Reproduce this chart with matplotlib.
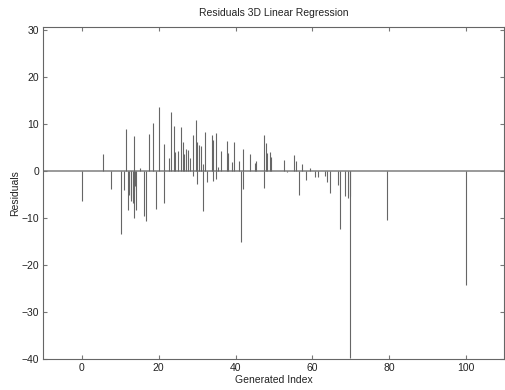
import matplotlib
matplotlib.use("Agg")
import matplotlib.pyplot as plt

plt.rcParams['font.family'] = ['Liberation Sans', 'DejaVu Sans']

# Generated index of each observation and its residual
index = [0.0, 5.6, 7.6, 10.1, 10.9, 11.4, 12.1, 12.4, 12.7, 12.9, 13.2, 13.5, 13.5,
         13.7, 13.9, 14.2, 15.2, 16.2, 16.6, 17.6, 18.6, 19.4, 20.0, 21.4, 21.4,
         22.8, 23.1, 24.0, 24.3, 25.1, 25.8, 26.3, 26.7, 27.1, 27.7, 28.1, 28.9,
         28.9, 29.7, 29.9, 29.9, 30.4, 31.1, 31.6, 31.6, 32.1, 32.7, 33.9, 34.2,
         34.2, 34.9, 34.9, 35.4, 36.2, 37.9, 38.1, 39.2, 39.7, 40.8, 41.4, 42.0,
         42.0, 43.7, 45.1, 45.4, 47.4, 47.4, 47.9, 48.1, 48.9, 49.3, 52.7, 53.3,
         55.3, 55.8, 56.4, 57.4, 58.4, 59.3, 60.6, 61.5, 63.4, 63.9, 64.5, 66.7,
         67.3, 68.4, 69.3, 69.7, 69.9, 79.4, 100.0]
residuals = [-6.4, 3.5, -3.8, -13.4, -4.0, 8.9, -8.3, -5.1, -5.8, -6.4, -6.9, -10.0, 7.3,
             -4.4, -3.3, -8.3, 0.6, -9.7, -10.7, 7.9, 10.1, -8.1, 13.6, 5.6, -6.9,
             2.8, 12.4, 9.6, 4.0, 4.1, 9.3, 6.2, 3.5, 4.7, 4.4, 2.7, 7.5,
             -1.2, 10.7, 6.2, -2.8, 5.5, 5.2, -8.6, 1.5, 8.3, -2.4, 7.6, 6.6,
             -2.1, 8.0, -1.7, 0.7, 4.2, 6.4, 3.7, 1.8, 6.2, 2.1, -15.2, 4.7,
             -3.9, 3.6, 1.6, 2.1, 7.5, -3.6, 5.9, 3.7, 4.0, 3.0, 2.2, -0.3,
             3.4, 2.1, -5.1, 1.4, -2.0, 0.5, -1.3, -1.3, -1.1, -2.4, -4.7, -3.1,
             -12.3, -5.4, -5.7, -5.4, -39.8, -10.5, -24.3]

x_ticks = [0, 20, 40, 60, 80, 100]
y_ticks = [-40, -30, -20, -10, 0, 10, 20, 30]

fig = plt.figure(figsize=(5.05, 3.9), dpi=100)
ax = fig.add_axes([0.086, 0.0795, 0.913, 0.852])

# zero baseline
ax.axhline(0, color='#9a9a9a', lw=1.4, zorder=1)
# residual stems
ax.vlines(index, 0, residuals, color='#666666', lw=0.8, zorder=2)

ax.set_xlim(-10, 110)
ax.set_ylim(-40, 30.6)
ax.set_xticks(x_ticks)
ax.set_yticks(y_ticks)
ax.tick_params(direction='in', length=3, width=0.8, color='#777777',
               labelsize=7.5, labelcolor='#222222', top=True, right=True,
               labeltop=False, labelright=False, pad=3)
for s in ax.spines.values():
    s.set_color('#666666')
    s.set_linewidth(0.8)

ax.set_title('Residuals 3D Linear Regression', fontsize=7.5, color='#222222', pad=8)
ax.set_xlabel('Generated Index', fontsize=7.5, color='#222222', labelpad=1)
ax.set_ylabel('Residuals', fontsize=7.5, color='#222222', labelpad=1)

fig.savefig('out.png', dpi=100)
